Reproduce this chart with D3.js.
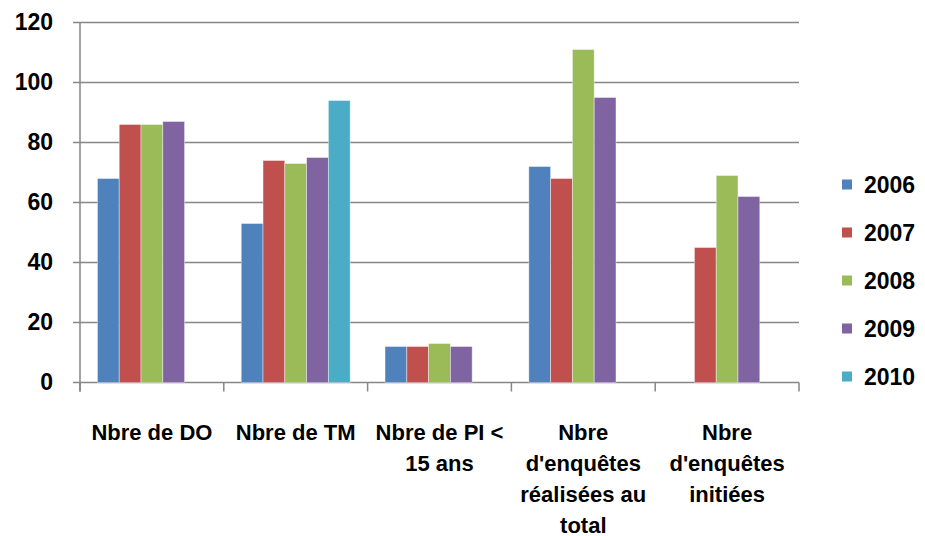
<!DOCTYPE html>
<html>
<head>
<meta charset="utf-8">
<script src="https://cdn.jsdelivr.net/npm/d3@7"></script>
<style>
  body { margin: 0; background: #fff; }
  text { font-family: "Liberation Sans", Arial, sans-serif; font-weight: bold; fill: #000; }
</style>
</head>
<body>
<div id="chart"></div>
<script>
var categories = ["Nbre de DO", "Nbre de TM", "Nbre de PI < 15 ans", "Nbre d'enquêtes réalisées au total", "Nbre d'enquêtes initiées"];
var labelLines = [["Nbre de DO"], ["Nbre de TM"], ["Nbre de PI <", "15 ans"], ["Nbre", "d'enquêtes", "réalisées au", "total"], ["Nbre", "d'enquêtes", "initiées"]];
var years = ["2006", "2007", "2008", "2009", "2010"];
var v2006 = [68, 53, 12, 72, null];
var v2007 = [86, 74, 12, 68, 45];
var v2008 = [86, 73, 13, 111, 69];
var v2009 = [87, 75, 12, 95, 62];
var v2010 = [null, 94, null, null, null];
var yTicks = [0, 20, 40, 60, 80, 100, 120];
var colors = ["#4F81BD", "#C0504D", "#9BBB59", "#8064A2", "#4BACC6"];

var series = [v2006, v2007, v2008, v2009, v2010];

var margin = {top: 22.5, right: 126, bottom: 153.5, left: 80},
    width = 925 - margin.left - margin.right,
    height = 536 - margin.top - margin.bottom;

var svg = d3.select("#chart")
  .append("svg")
    .attr("width", 925)
    .attr("height", 536)
  .append("g")
    .attr("transform", "translate(" + margin.left + "," + margin.top + ")");

var x = d3.scaleBand()
  .domain(categories)
  .range([0, width])
  .paddingInner(0)
  .paddingOuter(0);

// gap width 160% like excel
var x1 = d3.scaleBand()
  .domain(years)
  .range([0, x.bandwidth()])
  .paddingOuter(0.8)
  .paddingInner(0);

var y = d3.scaleLinear()
  .domain([0, 120])
  .range([height, 0]);

// gridlines
svg.append("g")
  .selectAll("line")
  .data(yTicks)
  .join("line")
    .attr("x1", -7)
    .attr("x2", width)
    .attr("y1", d => y(d))
    .attr("y2", d => y(d))
    .style("stroke", "#868686")
    .style("stroke-width", 1.3);

svg.append("g")
  .call(d3.axisLeft(y).tickValues(yTicks).tickSize(0).tickPadding(27))
  .call(g => g.select(".domain").remove())
  .selectAll("text")
    .style("font-size", "23px")
    .style("font-family", "'Liberation Sans', Arial, sans-serif");

// bars
years.forEach(function(yr, i) {
  var data = categories.map((c, j) => ({cat: c, value: series[i][j]}))
    .filter(d => d.value != null);
  svg.append("g")
    .selectAll("rect")
    .data(data)
    .join("rect")
      .attr("x", d => x(d.cat) + x1(yr))
      .attr("y", d => y(d.value))
      .attr("width", x1.bandwidth())
      .attr("height", d => y(0) - y(d.value))
      .style("fill", colors[i])
      .style("stroke", "#fff")
      .style("stroke-opacity", 0.5)
      .style("stroke-width", 0.8);
});

// axis lines
svg.append("line")
  .attr("x1", 0).attr("x2", 0)
  .attr("y1", 0).attr("y2", height + 9)
  .style("stroke", "#868686")
  .style("stroke-width", 1.5);

svg.append("g")
  .selectAll("line")
  .data(d3.range(categories.length + 1))
  .join("line")
    .attr("x1", d => d * x.step())
    .attr("x2", d => d * x.step())
    .attr("y1", height)
    .attr("y2", height + 9)
    .style("stroke", "#868686")
    .style("stroke-width", 1.5);

// category labels
var lab = svg.append("g")
  .selectAll("text")
  .data(categories)
  .join("text")
    .attr("text-anchor", "middle")
    .attr("x", d => x(d) + x.bandwidth() / 2)
    .attr("y", height + 57)
    .style("font-size", "22px");

lab.each(function(d, i) {
  d3.select(this).selectAll("tspan")
    .data(labelLines[i])
    .join("tspan")
      .attr("x", x(d) + x.bandwidth() / 2)
      .attr("dy", (t, k) => k === 0 ? 0 : 31)
      .text(t => t);
});

// legend
var legend = svg.append("g")
  .attr("transform", "translate(" + (width + 43) + ",0)");

legend.selectAll("rect")
  .data(years)
  .join("rect")
    .attr("x", 0)
    .attr("y", (d, i) => 162 + i * 48 - 5)
    .attr("width", 10)
    .attr("height", 10)
    .style("fill", (d, i) => colors[i]);

legend.selectAll("text")
  .data(years)
  .join("text")
    .attr("x", 22)
    .attr("y", (d, i) => 162 + i * 48)
    .attr("dy", "0.36em")
    .style("font-size", "23px")
    .text(d => d);
</script>
</body>
</html>
